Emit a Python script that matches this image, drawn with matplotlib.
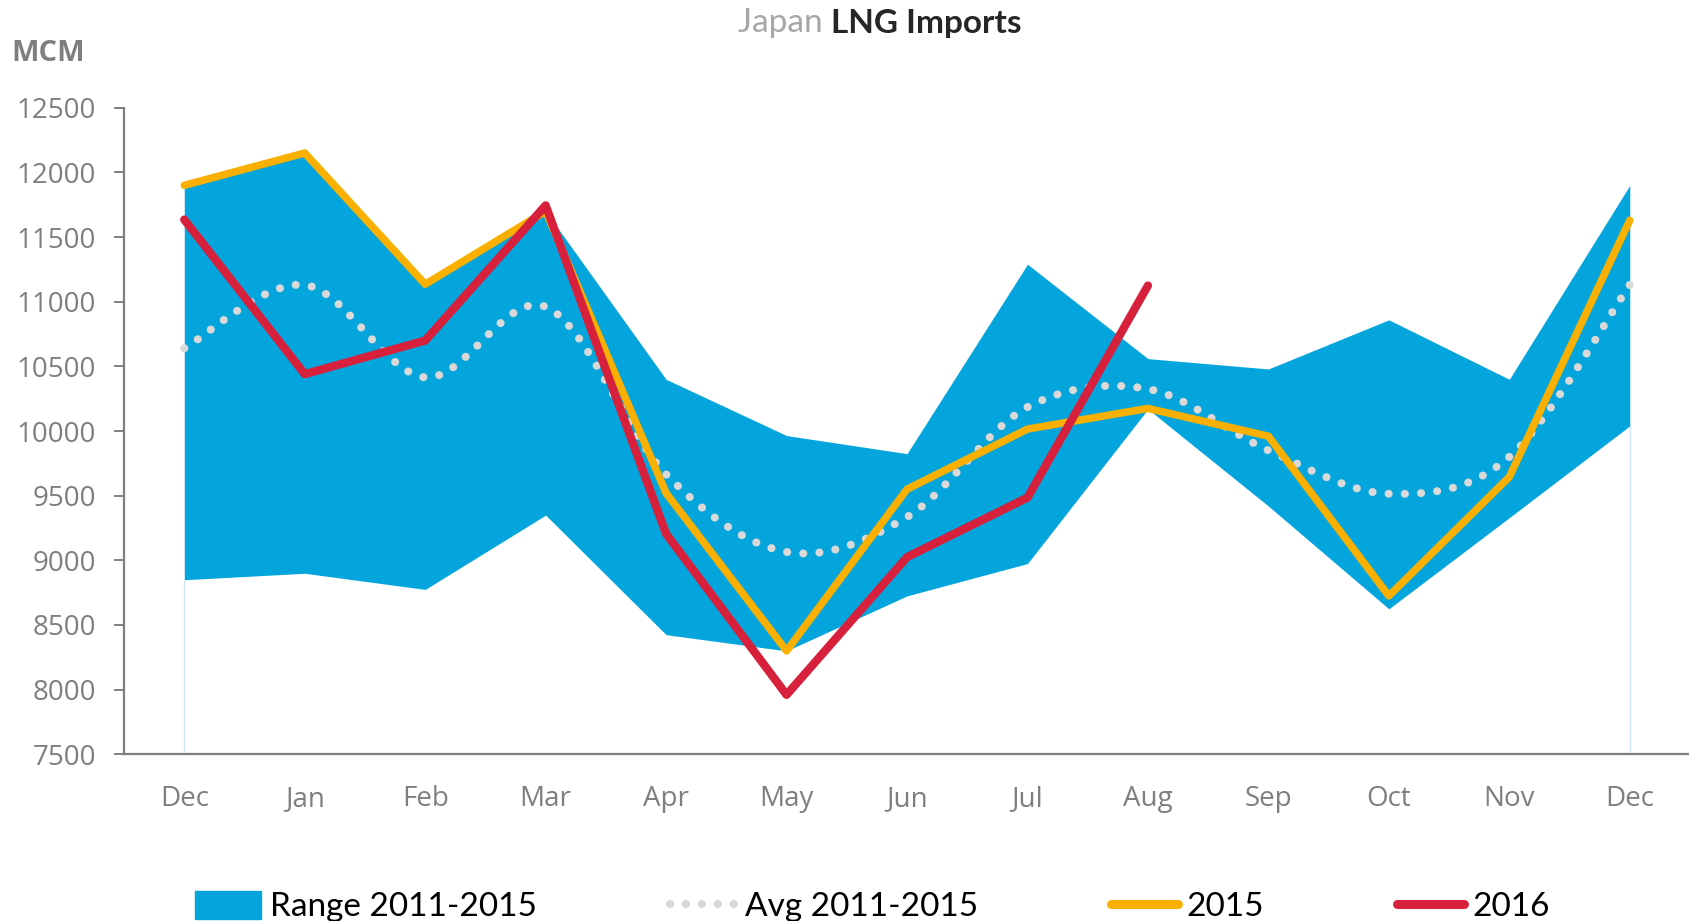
import matplotlib.pyplot as plt
from matplotlib.path import Path
from matplotlib.patches import PathPatch, Patch
from matplotlib.lines import Line2D
import numpy as np

# months on the x axis (Dec of previous year .. Dec)
months = ['Dec', 'Jan', 'Feb', 'Mar', 'Apr', 'May', 'Jun',
          'Jul', 'Aug', 'Sep', 'Oct', 'Nov', 'Dec']

# MCM
range_low = [8850, 8900, 8775, 9350, 8425, 8300, 8725,
             8975, 10170, 9420, 8625, 9330, 10040]
range_high = [11900, 12150, 11135, 11700, 10400, 9965, 9825,
              11290, 10560, 10480, 10860, 10400, 11900]
avg_1115 = [10640, 11130, 10415, 10960, 9665, 9065, 9335,
            10185, 10325, 9850, 9515, 9800, 11130]
y2015 = [11900, 12150, 11135, 11700, 9520, 8300, 9550,
         10015, 10175, 9960, 8725, 9645, 11630]
y2016 = [11635, 10440, 10700, 11745, 9205, 7960, 9025, 9485, 11125]

blue = '#03a5dc'
orange = '#f9b000'
red = '#d7203c'
dots = '#d9d9d9'
grey = '#7f7f7f'

plt.rcParams['font.family'] = ['Open Sans', 'DejaVu Sans']

fig = plt.figure(figsize=(16.9, 9.21), dpi=100)
ax = fig.add_axes([0.0734, 0.181, 0.9266, 0.702])

x = np.arange(len(months))

ax.fill_between(x, range_low, range_high, color=blue, lw=0, zorder=1)
ax.vlines([x[0], x[-1]], 7500, [range_low[0], range_low[-1]],
          color='#cfe7f5', lw=1, zorder=1)

# smoothed average line (excel style bezier through the points)
pts = np.column_stack([x, avg_1115]).astype(float)
verts = [pts[0]]
codes = [Path.MOVETO]
n = len(pts)
for i in range(n - 1):
    p0 = pts[i - 1] if i > 0 else pts[i]
    p1 = pts[i]
    p2 = pts[i + 1]
    p3 = pts[i + 2] if i + 2 < n else pts[i + 1]
    verts += [p1 + (p2 - p0) / 6, p2 - (p3 - p1) / 6, p2]
    codes += [Path.CURVE4] * 3
avg_path = PathPatch(Path(verts, codes), fill=False, ec=dots, lw=5.8,
                     ls=(0, (0.01, 2.0)), capstyle='round', zorder=2)
ax.add_patch(avg_path)

ax.plot(x, y2015, color=orange, lw=5.4, solid_capstyle='round',
        solid_joinstyle='round', zorder=3)
ax.plot(x[:len(y2016)], y2016, color=red, lw=6, solid_capstyle='round',
        solid_joinstyle='round', zorder=4)

ax.set_xlim(-0.5, 12.5)
ax.set_ylim(7500, 12500)
ax.set_yticks(np.arange(7500, 12501, 500))
ax.set_xticks(x)
ax.set_xticklabels(months)

for s in ['top', 'right']:
    ax.spines[s].set_visible(False)
for s in ['left', 'bottom']:
    ax.spines[s].set_color(grey)
    ax.spines[s].set_linewidth(1.6)

ax.tick_params(axis='y', direction='out', length=7, width=1.4, color=grey,
               labelcolor=grey, labelsize=20, pad=13)
ax.tick_params(axis='x', length=0, labelcolor=grey, labelsize=20, pad=22)

fig.text(0.007, 0.942, 'MCM', color=grey, fontsize=21, fontweight='bold',
         ha='left', va='center')

fig.text(0.492, 0.975, 'Japan ', color='#a6a6a6', fontsize=24,
         family=['Lato', 'DejaVu Sans'], ha='right', va='center')
fig.text(0.492, 0.975, 'LNG Imports', color='#262626', fontsize=24,
         fontweight='bold', family=['Lato', 'DejaVu Sans'],
         ha='left', va='center')

handles = [
    Patch(color=blue),
    Line2D([0], [0], color=dots, lw=6, ls=(0, (0.01, 1.9)),
           dash_capstyle='round'),
    Line2D([0], [0], color=orange, lw=6.5, solid_capstyle='round'),
    Line2D([0], [0], color=red, lw=6.5, solid_capstyle='round'),
]
labels = ['Range 2011-2015', 'Avg 2011-2015', '2015', '2016']
fig.legend(handles, labels, loc='lower center', bbox_to_anchor=(0.516, -0.034),
           ncol=4, frameon=False, prop={'family': ['Lato', 'DejaVu Sans'], 'size': 24},
           handlelength=2.0, handleheight=0.9, handletextpad=0.25,
           columnspacing=4.0)

fig.savefig('out.png', dpi=100)
